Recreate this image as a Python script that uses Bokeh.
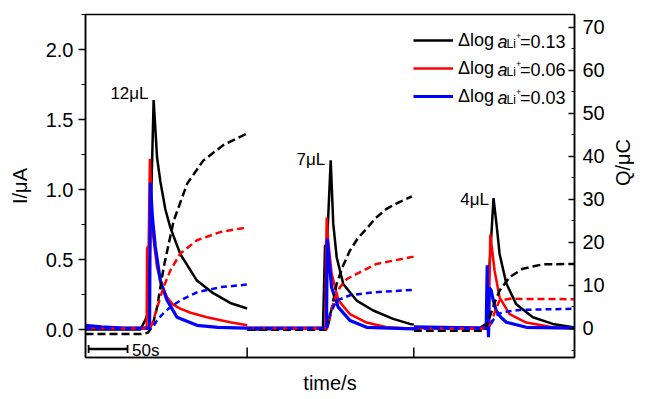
import math
from bokeh.plotting import figure
from bokeh.models import (Range1d, LinearAxis, SingleIntervalTicker, FixedTicker,
                          PrintfTickFormatter, Label, Legend, LegendItem)
from bokeh.embed import file_html
from bokeh.resources import INLINE

FONT = "Liberation Sans"

# ---------------- data (time in s; I in uA; Q in uC), three injections ----------------
panel_edges = [207.6, 421.6]
t_max = 628

# black: dlog a = 0.13
black_I_t = [[0, 70.5, 76.9, 80.7, 87.5, 91.9, 96.1, 102.5, 108.9, 121.7, 143.1, 164.0, 185.8, 207.6],
             [207.6, 305.0, 307.6, 310.1, 314.9, 318.2, 322.6, 331.0, 348.2, 369.5, 395.1, 416.5, 421.6],
             [421.6, 506.1, 514.6, 524.0, 527.9, 531.8, 540.4, 553.2, 574.5, 600.1, 628]]
black_I = [[0.0, 0.0, 0.07, 0.12, 1.64, 1.23, 1.06, 0.86, 0.73, 0.54, 0.35, 0.26, 0.19, 0.15],
           [0.0, 0.01, 0.6, 0.6, 1.21, 0.755, 0.516, 0.326, 0.207, 0.136, 0.076, 0.04, 0.035],
           [0.01, 0.01, 0.04, 0.94, 0.75, 0.54, 0.33, 0.18, 0.088, 0.04, 0.015]]
black_Q_t = [[0, 70.5, 80.0, 85.5, 91.9, 100.4, 113.2, 130.7, 151.2, 176.9, 207.6],
             [207.6, 308.9, 311.4, 316.5, 322.6, 330.6, 339.6, 349.9, 361.0, 372.9, 386.6, 401.1, 419.1],
             [421.6, 512.6, 519.0, 525.4, 531.8, 544.6, 561.7, 587.3, 628]]
black_Q = [[-1.3, -1.3, -1.0, 0.3, 4.9, 14.2, 25.0, 33.7, 39.0, 42.6, 45.3],
           [-0.3, -0.3, 0.7, 5.0, 10.4, 14.5, 18.1, 21.0, 23.2, 25.7, 27.8, 29.2, 30.7],
           [-0.5, -0.5, 2.6, 6.0, 8.8, 11.9, 13.9, 14.9, 15.0]]

# red: dlog a = 0.06
red_I_t = [[0, 78.5, 79.1, 81.1, 82.7, 83.5, 85.5, 91.9, 97.0, 104.7, 112.0, 121.7, 135.0, 156.0, 185.8, 207.6],
           [207.6, 308.2, 308.9, 309.8, 311.4, 316.1, 324.6, 339.6, 361.0, 386.6, 421.6],
           [421.6, 517.8, 519.0, 519.9, 521.6, 525.4, 531.8, 544.6, 566.0, 599.8, 628]]
red_I = [[0.01, 0.01, 0.58, 0.6, 1.22, 1.1, 0.73, 0.445, 0.33, 0.23, 0.18, 0.15, 0.12, 0.088, 0.052, 0.03],
         [0.01, 0.01, 0.5, 0.80, 0.65, 0.40, 0.21, 0.11, 0.05, 0.016, 0.005],
         [0.01, 0.01, 0.4, 0.68, 0.6, 0.42, 0.23, 0.11, 0.05, 0.016, 0.008]]
red_Q_t = [[0, 83.3, 87.1, 92.3, 100.0, 109.0, 121.7, 143.1, 173.0, 207.6],
           [207.6, 310.1, 314.0, 319.1, 326.8, 335.8, 348.2, 373.8, 421.6],
           [421.6, 517.8, 523.3, 528.0, 531.8, 544.6, 628]]
red_Q = [[0, 0, 1.9, 5.0, 9.5, 13.5, 17.4, 20.5, 22.4, 23.5],
         [0, 0, 2.6, 6.5, 9.6, 11.5, 12.7, 15.0, 16.7],
         [0, 0, 2.6, 5.0, 6.5, 6.9, 6.8]]

# blue: dlog a = 0.03
blue_I_t = [[0, 20, 50, 82.3, 83.3, 86.0, 89.7, 96.1, 104.7, 117.5, 143.1, 170.0, 207.6],
            [207.6, 309.5, 310.5, 312.7, 316.1, 324.6, 339.6, 361.0, 421.6],
            [421.6, 514.6, 515.9, 516.7, 517.6, 518.5, 521.0, 524.0, 527.4, 532.9, 540.4, 566.0, 628]]
blue_I = [[0.03, 0.02, 0.01, 0.01, 1.05, 0.8, 0.59, 0.35, 0.21, 0.088, 0.03, 0.015, 0.01],
          [0.01, 0.01, 0.65, 0.5, 0.30, 0.16, 0.064, 0.016, 0.005],
          [0.02, 0.01, 0.46, 0.1, -0.055, 0.3, 0.28, 0.2, 0.136, 0.09, 0.052, 0.016, 0.01]]
blue_Q_t = [[0, 85.5, 92.3, 100.0, 109.0, 121.7, 143.1, 173.0, 207.6],
            [207.6, 310.1, 314.0, 322.6, 339.6, 369.5, 421.6],
            [421.6, 517.8, 523.3, 529.3, 536.1, 557.5, 628]]
blue_Q = [[0, 0, 2.0, 3.5, 5.0, 6.5, 8.4, 9.6, 10.2],
          [0, 0, 3.4, 6.5, 7.7, 8.4, 9.0],
          [0, 0, 1.9, 3.2, 3.8, 4.3, 4.6]]

volumes = ["12\u03bcL", "7\u03bcL", "4\u03bcL"]
volume_x = [32.0, 271.0, 481.3]
volume_y = [1.69, 1.217, 0.931]

legend_values = ["0.13", "0.06", "0.03"]
scale_bar_start = 4.0
scale_bar_len = 50.0
scale_bar_y = -0.139

# ---------------- figure ----------------
p = figure(width=647, height=399, output_backend="svg", toolbar_location=None,
           x_range=Range1d(0, t_max), y_range=Range1d(-0.2, 2.252),
           min_border_left=85, min_border_right=72, min_border_top=14, min_border_bottom=42)
p.extra_y_ranges = {"q": Range1d(-6.74, 72.95)}
p.xgrid.visible = False
p.ygrid.visible = False
p.outline_line_color = "black"
p.outline_line_width = 1.5
p.background_fill_color = "white"

LW = 2.5
r_black = p.multi_line(xs=black_I_t, ys=black_I, line_color="black", line_width=LW)
r_red = p.multi_line(xs=red_I_t, ys=red_I, line_color="#ff0000", line_width=LW)
r_blue = p.multi_line(xs=blue_I_t, ys=blue_I, line_color="#0000ff", line_width=3.2)
p.multi_line(xs=black_Q_t, ys=black_Q, line_color="black", line_width=LW,
             line_dash="8 4", y_range_name="q")
p.multi_line(xs=red_Q_t, ys=red_Q, line_color="#ff0000", line_width=LW,
             line_dash="7 4", y_range_name="q")
p.multi_line(xs=blue_Q_t, ys=blue_Q, line_color="#0000ff", line_width=LW,
             line_dash="6 4", y_range_name="q")

# left axis
ya = p.yaxis[0]
ya.ticker = SingleIntervalTicker(interval=0.5, num_minor_ticks=2)
ya.formatter = PrintfTickFormatter(format="%.1f")
ya.axis_label = "I/\u03bcA"
ya.major_tick_out = 7
ya.major_tick_in = 0
ya.minor_tick_out = 4
ya.minor_tick_in = 0
ya.major_label_standoff = 5
ya.axis_label_standoff = 12

# right axis
qa = LinearAxis(y_range_name="q", axis_label="Q/\u03bcC",
                ticker=SingleIntervalTicker(interval=10, num_minor_ticks=2))
qa.major_tick_out = 0
qa.major_tick_in = 6
qa.minor_tick_out = 0
qa.minor_tick_in = 3
qa.major_label_standoff = 8
qa.axis_label_standoff = 15
qa.axis_label_orientation = math.pi / 2
p.add_layout(qa, "right")

# bottom axis: no tick labels, only the panel-boundary ticks (drawn inward below)
xa = p.xaxis[0]
xa.ticker = FixedTicker(ticks=[])
xa.minor_tick_line_color = None
xa.major_label_standoff = 0
xa.axis_label = "time/s"
xa.axis_label_standoff = 14

for ax in (ya, qa, xa):
    ax.axis_line_width = 1.5
    ax.major_tick_line_width = 1.5
    ax.minor_tick_line_width = 1.2
    ax.axis_line_color = "black"
    ax.major_tick_line_color = "black"
    ax.axis_label_text_font = FONT
    ax.axis_label_text_font_size = "20px"
    ax.axis_label_text_font_style = "normal"
    ax.axis_label_text_color = "black"
    ax.major_label_text_font = FONT
    ax.major_label_text_color = "black"
    ax.major_label_text_font_size = "20px"
for ax in (ya, qa):
    ax.minor_tick_line_color = "black"

# inward ticks at the panel boundaries on the time axis
p.segment(x0=panel_edges, x1=panel_edges, y0=[-0.2] * 2, y1=[-0.2 + 0.072] * 2,
          line_color="black", line_width=1.5)

# volume annotations
for txt, vx, vy in zip(volumes, volume_x, volume_y):
    p.add_layout(Label(x=vx, y=vy, text=txt, text_font=FONT, text_font_size="17px",
                       text_color="black", text_baseline="alphabetic"))

# scale bar
sb_end = scale_bar_start + scale_bar_len
p.segment(x0=[scale_bar_start], x1=[sb_end], y0=[scale_bar_y], y1=[scale_bar_y],
          line_color="black", line_width=2.5)
p.segment(x0=[scale_bar_start, sb_end], x1=[scale_bar_start, sb_end],
          y0=[scale_bar_y - 0.028] * 2, y1=[scale_bar_y + 0.028] * 2,
          line_color="black", line_width=1.8)
p.add_layout(Label(x=sb_end + 5.8, y=-0.15, text="50s", text_font=FONT,
                   text_font_size="17px", text_color="black", text_baseline="alphabetic"))

# legend (sample lines + "Δlog") and the rest of the rich label
legend = Legend(items=[LegendItem(label="\u0394log", renderers=[r]) for r in (r_black, r_red, r_blue)],
                location=(328, 246.7), glyph_width=40, glyph_height=28, label_height=28,
                label_standoff=5, spacing=0, padding=0, margin=0,
                label_text_font=FONT, label_text_font_size="18px", label_text_color="black",
                border_line_color=None, background_fill_alpha=0)
p.add_layout(legend)

row_baselines = [316.0, 288.0, 260.0]  # frame-relative screen y (up)
for val, yb in zip(legend_values, row_baselines):
    common = dict(x_units="screen", y_units="screen", text_font=FONT, text_color="black",
                  text_baseline="alphabetic")
    p.add_layout(Label(x=412, y=yb, text="a", text_font_size="18px",
                       text_font_style="italic", **common))
    p.add_layout(Label(x=421, y=yb - 2.7, text="Li", text_font_size="12px", **common))
    p.add_layout(Label(x=430.5, y=yb + 5.5, text="+", text_font_size="9px", **common))
    p.add_layout(Label(x=434.5, y=yb, text="=" + val, text_font_size="18px", **common))

open("out.html", "w").write(file_html(p, INLINE))
